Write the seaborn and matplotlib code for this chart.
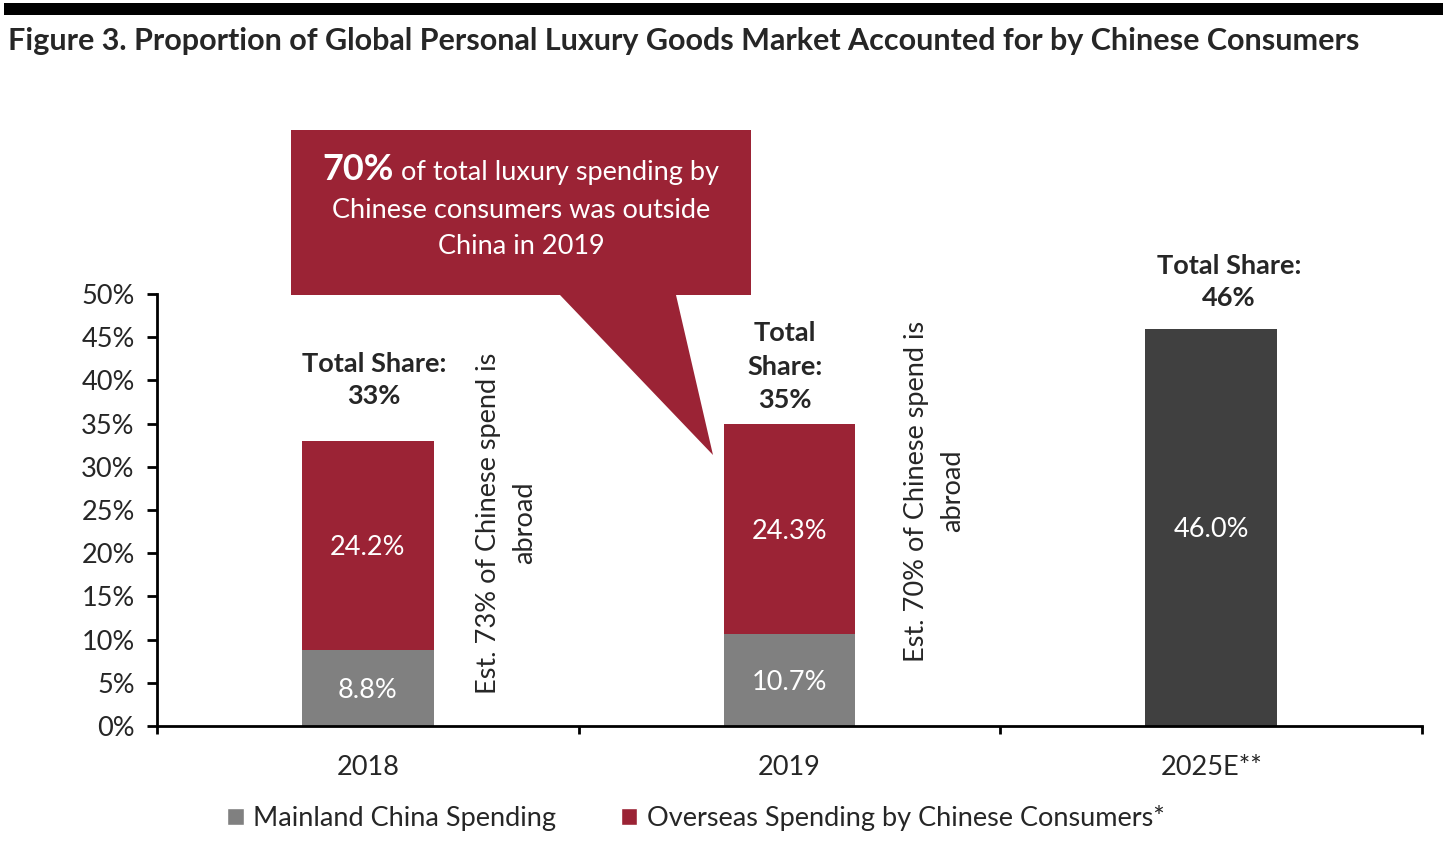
import pandas as pd
import matplotlib.pyplot as plt
import seaborn as sns
from matplotlib.patches import Patch, Polygon, Rectangle

# Data
years = ['2018', '2019', '2025E**']
mainland = [8.8, 10.7, 0.0]
overseas = [24.2, 24.3, 0.0]
estimate_2025 = [0.0, 0.0, 46.0]
total_share = [33, 35, 46]
share_labels = ['Total Share:\n33%', 'Total\nShare:\n35%', 'Total Share:\n46%']
abroad_notes = ['Est. 73% of Chinese spend is\nabroad', 'Est. 70% of Chinese spend is\nabroad']
legend_labels = ['Mainland China Spending', 'Overseas Spending by Chinese Consumers*']

RED = '#9B2335'
GREY = '#808080'
DARK = '#404040'
FS = 19.5

df = pd.DataFrame({'year': years, 'mainland': mainland, 'overseas': overseas,
                   'estimate': estimate_2025})
df['total'] = df['mainland'] + df['overseas'] + df['estimate']

sns.set_style('white')
plt.rcParams['font.family'] = ['Lato', 'DejaVu Sans']

W, H = 1446, 868
fig = plt.figure(figsize=(W / 100, H / 100), dpi=100)
ax = fig.add_axes([157 / W, 1 - 726 / H, (1422 - 157) / W, (726 - 294) / H])


def px(x, y):
    return (x / W, 1 - y / H)


# Bars: full stack first, then mainland on top
palette = {years[0]: RED, years[1]: RED, years[2]: DARK}
sns.barplot(data=df, x='year', y='total', hue='year', palette=palette, width=0.313,
            saturation=1, legend=False, linewidth=0, edgecolor='none', ax=ax)
sns.barplot(data=df, x='year', y='mainland', color=GREY, width=0.313,
            saturation=1, linewidth=0, edgecolor='none', ax=ax)

# Segment labels
for i, row in df.iterrows():
    if row['mainland'] > 0:
        ax.text(i, row['mainland'] / 2, f"{row['mainland']:.1f}%", ha='center',
                va='center_baseline', color='white', fontsize=FS)
        ax.text(i, row['mainland'] + row['overseas'] / 2, f"{row['overseas']:.1f}%",
                ha='center', va='center_baseline', color='white', fontsize=FS)
    else:
        ax.text(i, row['total'] / 2, f"{row['total']:.1f}%", ha='center',
                va='center_baseline', color='white', fontsize=FS)

# Total share labels
share_dx = [0.015, -0.01, 0.042]
share_dy = [3.8, 1.3, 2.2]
share_ls = [1.4, 1.48, 1.4]
for i, lab in enumerate(share_labels):
    ax.text(i + share_dx[i], total_share[i] + share_dy[i], lab, ha='center', va='bottom',
            fontsize=FS, fontweight='bold', linespacing=share_ls[i], clip_on=False)

# Rotated notes
note_pos = [(0.328, 23.5), (1.343, 27.2)]
for (x, y), note in zip(note_pos, abroad_notes):
    ax.text(x, y, note, rotation=90, ha='center', va='center', multialignment='center',
            fontsize=FS, linespacing=1.55)

# Axes styling
ax.set_xlim(-0.5, 2.5)
ax.set_ylim(0, 50)
ax.set_yticks(range(0, 51, 5))
ax.set_yticklabels([f'{v}%' for v in range(0, 51, 5)])
ax.set_xticks([0.5, 1.5, 2.5, -0.5], minor=True)
ax.set_xlabel('')
ax.set_ylabel('')
for s in ['top', 'right']:
    ax.spines[s].set_visible(False)
for s in ['left', 'bottom']:
    ax.spines[s].set_color('black')
    ax.spines[s].set_linewidth(2)
ax.tick_params(axis='y', which='major', length=7, width=2, color='black', pad=9,
               labelsize=FS, left=True)
ax.tick_params(axis='x', which='major', length=0, pad=21, labelsize=FS)
ax.tick_params(axis='x', which='minor', length=6, width=2, color='black', bottom=True)

# Callout box
callout = [(291, 130), (751, 130), (751, 295), (676, 295), (713, 455), (560, 295), (291, 295)]
fig.add_artist(Polygon([px(x, y) for x, y in callout], closed=True, facecolor=RED,
                       edgecolor='none', transform=fig.transFigure, zorder=5))
t1 = fig.text(0, 0, '70%', fontsize=26, fontweight='bold', color='white', zorder=6,
              va='baseline')
t2 = fig.text(0, 0, ' of total luxury spending by', fontsize=FS, color='white', zorder=6,
              va='baseline')
fig.canvas.draw()
r = fig.canvas.get_renderer()
w1 = t1.get_window_extent(r).width
w2 = t2.get_window_extent(r).width
x0 = 521 - (w1 + w2) / 2
t1.set_position(px(x0, 180))
t2.set_position(px(x0 + w1, 180))
fig.text(*px(521, 210), 'Chinese consumers was outside', ha='center', va='center',
         fontsize=FS, color='white', zorder=6)
fig.text(*px(521, 246), 'China in 2019', ha='center', va='center',
         fontsize=FS, color='white', zorder=6)

# Title and top bar
fig.add_artist(Rectangle(px(4, 15), 1439 / W, 12 / H, transform=fig.transFigure,
                         facecolor='black', edgecolor='none'))
fig.text(*px(8, 41), 'Figure 3. Proportion of Global Personal Luxury Goods Market Accounted for by Chinese Consumers',
         ha='left', va='center', fontsize=22, fontweight='bold')

# Legend
handles = [Patch(facecolor=GREY), Patch(facecolor=RED)]
fig.legend(handles, legend_labels, loc='center', bbox_to_anchor=px(696, 818), ncol=2,
           frameon=False, fontsize=FS, handlelength=0.6, handleheight=0.6,
           handletextpad=0.35, columnspacing=2.4)

plt.savefig('out.png', dpi=100)
